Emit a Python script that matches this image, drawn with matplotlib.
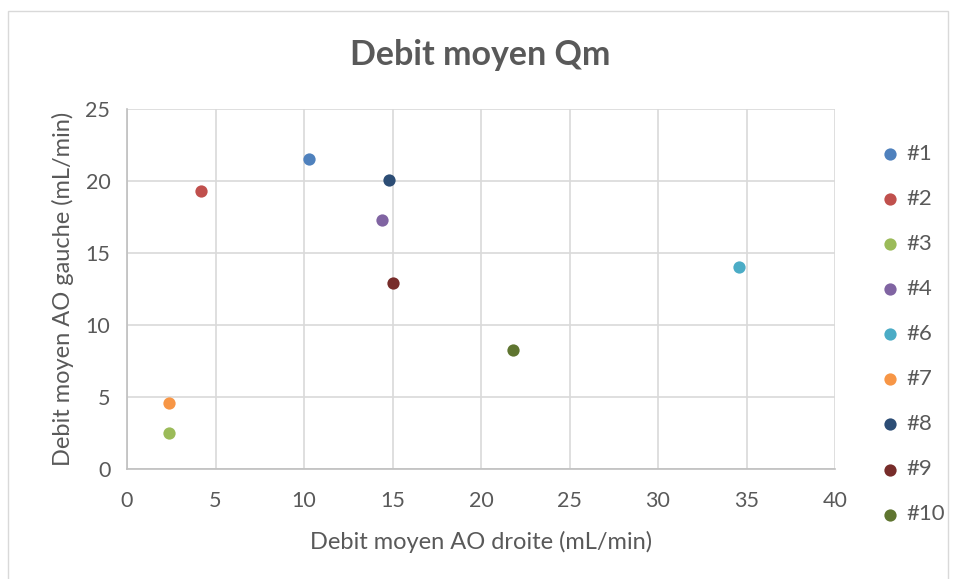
import matplotlib
matplotlib.use("Agg")
import matplotlib.pyplot as plt
from matplotlib.patches import Rectangle

# data
labels = ["#1", "#2", "#3", "#4", "#6", "#7", "#8", "#9", "#10"]
x_droite = [10.3, 4.2, 2.4, 14.4, 34.6, 2.4, 14.8, 15.0, 21.8]
y_gauche = [21.5, 19.3, 2.5, 17.3, 14.0, 4.55, 20.1, 12.9, 8.25]
colors = ["#4F81BD", "#C0504D", "#9BBB59", "#8064A2", "#4BACC6",
          "#F79646", "#2C4D75", "#772C2A", "#5F7530"]

x_ticks = [0, 5, 10, 15, 20, 25, 30, 35, 40]
y_ticks = [0, 5, 10, 15, 20, 25]

plt.rcParams['font.family'] = ['Lato', 'DejaVu Sans']
txt = "#595959"

fig = plt.figure(figsize=(9.6, 5.79), dpi=100)
fig.patches.append(Rectangle((8 / 960, -0.01), 940 / 960, 1 - 11 / 579 + 0.01,
                             transform=fig.transFigure, fill=False,
                             edgecolor="#D9D9D9", linewidth=1))

ax = fig.add_axes([127 / 960, 110 / 579, 708 / 960, 360 / 579])

for lab, xv, yv, c in zip(labels, x_droite, y_gauche, colors):
    ax.scatter(xv, yv, s=78, color=c, label=lab, zorder=3, linewidths=0)

ax.set_xlim(0, 40)
ax.set_ylim(0, 25)
ax.set_xticks(x_ticks)
ax.set_yticks(y_ticks)
ax.grid(True, color="#D9D9D9", linewidth=1.2)
ax.set_axisbelow(True)
for side in ["top", "right"]:
    ax.spines[side].set_visible(False)
for side in ["left", "bottom"]:
    ax.spines[side].set_color("#BFBFBF")
    ax.spines[side].set_linewidth(1.2)
ax.tick_params(length=0, colors=txt, labelsize=15.5)
ax.tick_params(axis="x", pad=16)
ax.tick_params(axis="y", pad=12)

ax.set_xlabel("Debit moyen AO droite (mL/min)", fontsize=17, color=txt, labelpad=14)
ax.set_ylabel("Debit moyen AO gauche (mL/min)", fontsize=17, color=txt, labelpad=8)
fig.text(0.5, 1 - 55 / 579, "Debit moyen Qm", ha="center", va="center",
         fontsize=24.5, fontweight="bold", color=txt)

fig.legend(loc="center left", bbox_to_anchor=(879 / 960, 1 - 334 / 579),
           frameon=False, fontsize=16, labelcolor=txt, labelspacing=1.13,
           handlelength=1.0, handletextpad=0.25, borderpad=0, borderaxespad=0,
           markerscale=1.0)

fig.savefig("out.png", dpi=100)
